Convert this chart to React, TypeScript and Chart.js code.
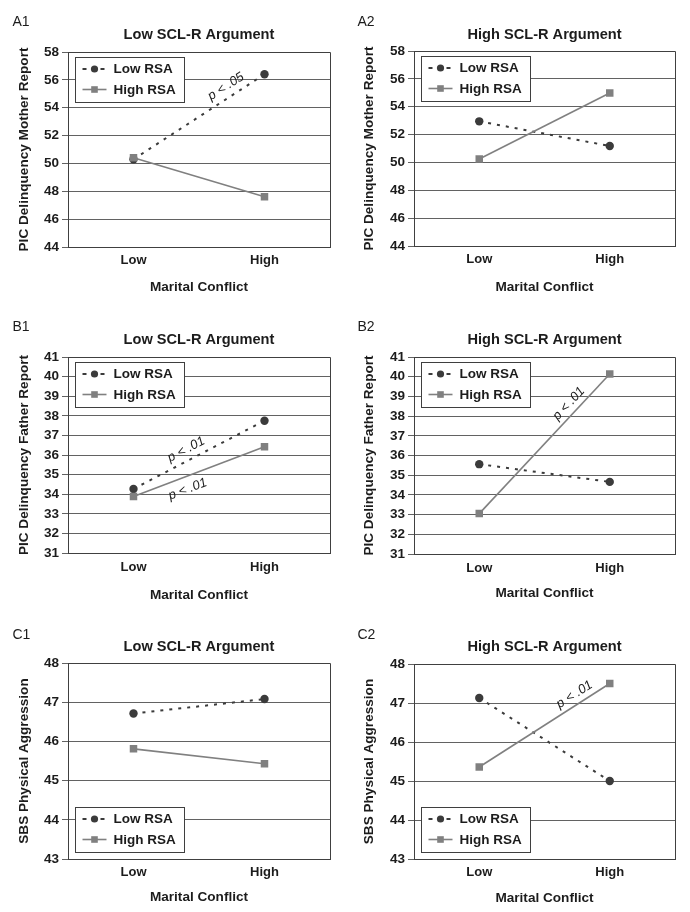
import React, { useEffect, useRef } from "react";
import { Chart, registerables } from "chart.js";

Chart.register(...registerables);

// ---------- data ----------
const categories = ["Low", "High"];
const seriesNames = ["Low RSA", "High RSA"];

const a1Low = [50.3, 56.4];
const a1High = [50.4, 47.6];
const a2Low = [52.95, 51.18];
const a2High = [50.25, 54.99];
const b1Low = [34.27, 37.75];
const b1High = [33.88, 36.42];
const b2Low = [35.56, 34.66];
const b2High = [33.05, 40.14];
const c1Low = [46.71, 47.08];
const c1High = [45.81, 45.43];
const c2Low = [47.13, 45.0];
const c2High = [45.36, 47.5];

const lowSeries = [a1Low, a2Low, b1Low, b2Low, c1Low, c2Low];
const highSeries = [a1High, a2High, b1High, b2High, c1High, c2High];

const panelLabels = ["A1", "A2", "B1", "B2", "C1", "C2"];
const panelTitles = [
  "Low SCL-R Argument",
  "High SCL-R Argument",
  "Low SCL-R Argument",
  "High SCL-R Argument",
  "Low SCL-R Argument",
  "High SCL-R Argument",
];
const yTitles = [
  "PIC Delinquency Mother Report",
  "PIC Delinquency Mother Report",
  "PIC Delinquency Father Report",
  "PIC Delinquency Father Report",
  "SBS Physical Aggression",
  "SBS Physical Aggression",
];
const xTitle = "Marital Conflict";
const yMins = [44, 44, 31, 31, 43, 43];
const yMaxs = [58, 58, 41, 41, 48, 48];
const ySteps = [2, 2, 1, 1, 1, 1];

const annotationTexts = [
  ["p < .05"],
  [],
  ["p < .01", "p < .01"],
  ["p < .01"],
  [],
  ["p < .01"],
];

// ---------- layout / style ----------
const FONT = "'Liberation Sans', Arial, Helvetica, sans-serif";
const TEXT = "#1c1c1c";
const LOW_COLOR = "#3b3b3b";
const HIGH_COLOR = "#808080";
const GRID = "#626262";
const AXIS = "#404040";

const canvasPos = [
  { left: 0, top: 0, h: 300 },
  { left: 345, top: 0, h: 300 },
  { left: 0, top: 300, h: 310 },
  { left: 345, top: 300, h: 310 },
  { left: 0, top: 610, h: 302 },
  { left: 345, top: 610, h: 302 },
];

const frames = [
  { left: 68, right: 330, top: 52, bottom: 247, titleY: 35, labelY: 22.5, xTitleY: 287, gap: 13.3, legend: "top" },
  { left: 69, right: 330, top: 51, bottom: 246, titleY: 35, labelY: 22.5, xTitleY: 287.5, gap: 13.3, legend: "top" },
  { left: 68, right: 330, top: 57, bottom: 253, titleY: 40, labelY: 27, xTitleY: 295, gap: 14.7, legend: "top" },
  { left: 69, right: 330, top: 57, bottom: 254, titleY: 40, labelY: 27, xTitleY: 293.5, gap: 14.7, legend: "top" },
  { left: 68, right: 330, top: 53, bottom: 249, titleY: 36.7, labelY: 25, xTitleY: 287.5, gap: 13.7, legend: "bottom" },
  { left: 69, right: 330, top: 54, bottom: 249, titleY: 37, labelY: 25, xTitleY: 288, gap: 13.7, legend: "bottom" },
];

// where along a series line each annotation sits
const annotationPlaces = [
  [{ ds: 0, t: 0.75, off: -7 }],
  [],
  [
    { ds: 0, t: 0.44, off: -7 },
    { ds: 1, t: 0.38, off: 16 },
  ],
  [{ ds: 1, t: 0.74, off: -6 }],
  [],
  [{ ds: 1, t: 0.77, off: -6 }],
];

const decorPlugin = {
  id: "decor",
  afterDraw(chart: any, _args: any, opts: any) {
    const { ctx, chartArea } = chart;
    const ca = chartArea;
    ctx.save();
    // plot frame
    ctx.strokeStyle = AXIS;
    ctx.lineWidth = 1;
    ctx.beginPath();
    ctx.moveTo(Math.round(ca.left) + 0.5, Math.round(ca.top) + 0.5);
    ctx.lineTo(Math.round(ca.right) + 0.5, Math.round(ca.top) + 0.5);
    ctx.lineTo(Math.round(ca.right) + 0.5, Math.round(ca.bottom) + 0.5);
    ctx.stroke();

    // panel label
    ctx.fillStyle = TEXT;
    ctx.font = `14px ${FONT}`;
    ctx.textAlign = "left";
    ctx.textBaseline = "middle";
    ctx.fillText(opts.label, 12.5, opts.labelY);

    // legend
    const bw = 109;
    const bh = 45;
    const bx = Math.round(ca.left + 7) + 0.5;
    const by =
      opts.legend === "top"
        ? Math.round(ca.top + 4.5) + 0.5
        : Math.round(ca.bottom - 7 - bh) + 0.5;
    ctx.fillStyle = "#ffffff";
    ctx.fillRect(bx, by, bw, bh);
    ctx.strokeStyle = "#3f3f3f";
    ctx.lineWidth = 1;
    ctx.strokeRect(bx, by, bw, bh);

    chart.data.datasets.forEach((ds: any, i: number) => {
      const rowY = by + 11.5 + i * 20.5;
      const x0 = bx + 7;
      const x1 = bx + 31;
      ctx.save();
      ctx.strokeStyle = ds.borderColor;
      ctx.lineWidth = ds.borderWidth;
      ctx.setLineDash(i === 0 ? [4, 5] : []);
      ctx.beginPath();
      ctx.moveTo(x0, rowY);
      ctx.lineTo(x1, rowY);
      ctx.stroke();
      ctx.restore();
      ctx.fillStyle = ds.pointBackgroundColor;
      const mx = (x0 + x1) / 2;
      if (ds.pointStyle === "circle") {
        ctx.beginPath();
        ctx.arc(mx, rowY, 3.6, 0, Math.PI * 2);
        ctx.fill();
      } else {
        ctx.fillRect(mx - 3.3, rowY - 3.3, 6.6, 6.6);
      }
      ctx.fillStyle = TEXT;
      ctx.font = `bold 13.5px ${FONT}`;
      ctx.textAlign = "left";
      ctx.textBaseline = "middle";
      ctx.fillText(ds.label, bx + 38, rowY + 0.5);
    });

    // significance annotations along lines
    (opts.places || []).forEach((pl: any, k: number) => {
      const meta = chart.getDatasetMeta(pl.ds);
      const p0 = meta.data[0];
      const p1 = meta.data[1];
      if (!p0 || !p1) return;
      const x = p0.x + pl.t * (p1.x - p0.x);
      const y = p0.y + pl.t * (p1.y - p0.y);
      const ang = Math.atan2(p1.y - p0.y, p1.x - p0.x);
      ctx.save();
      ctx.translate(x, y);
      ctx.rotate(ang);
      ctx.fillStyle = TEXT;
      ctx.font = `italic 13px ${FONT}`;
      ctx.textAlign = "center";
      ctx.textBaseline = "alphabetic";
      ctx.fillText(opts.texts[k], 0, pl.off);
      ctx.restore();
    });
    ctx.restore();
  },
};

function Panel({ idx }: { idx: number }) {
  const ref = useRef<HTMLCanvasElement>(null);
  const pos = canvasPos[idx];

  useEffect(() => {
    const f = frames[idx];
    const H = pos.h;
    const titleLH = 14.6 * 1.2;
    const axisTitleLH = 13.6 * 1.2;
    const xTickLH = 13 * 1.2;
    const chart = new Chart(ref.current as HTMLCanvasElement, {
      type: "line",
      data: {
        labels: categories,
        datasets: [
          {
            label: seriesNames[0],
            data: lowSeries[idx],
            borderColor: LOW_COLOR,
            backgroundColor: LOW_COLOR,
            pointBackgroundColor: LOW_COLOR,
            pointBorderColor: LOW_COLOR,
            borderWidth: 2,
            borderDash: [3, 6],
            pointStyle: "circle",
            pointRadius: 4.2,
            pointBorderWidth: 0,
            fill: false,
            tension: 0,
            order: 2,
          },
          {
            label: seriesNames[1],
            data: highSeries[idx],
            borderColor: HIGH_COLOR,
            backgroundColor: HIGH_COLOR,
            pointBackgroundColor: HIGH_COLOR,
            pointBorderColor: HIGH_COLOR,
            borderWidth: 1.6,
            pointStyle: "rect",
            pointRadius: 5.3,
            pointBorderWidth: 0,
            fill: false,
            tension: 0,
            order: 1,
          },
        ],
      },
      options: {
        responsive: false,
        animation: false,
        devicePixelRatio: 1,
        events: [],
        layout: { padding: { left: 0, right: 345 - f.right, top: 0, bottom: 0 } },
        plugins: {
          legend: { display: false },
          tooltip: { enabled: false },
          title: {
            display: true,
            text: panelTitles[idx],
            fullSize: false,
            color: TEXT,
            font: { family: FONT, size: 14.6, weight: "bold", lineHeight: 1.2 },
            padding: {
              top: f.titleY - titleLH / 2,
              bottom: f.top - f.titleY - titleLH / 2,
            },
          },
          decor: {
            label: panelLabels[idx],
            labelY: f.labelY,
            legend: f.legend,
            places: annotationPlaces[idx],
            texts: annotationTexts[idx],
          },
        } as any,
        scales: {
          x: {
            type: "category",
            offset: true,
            grid: { display: false, drawTicks: false, tickLength: 0 },
            border: { display: true, color: AXIS, width: 1 },
            ticks: {
              color: TEXT,
              padding: f.gap - xTickLH / 2,
              font: { family: FONT, size: 13, weight: "bold", lineHeight: 1.2 },
            },
            title: {
              display: true,
              text: xTitle,
              color: TEXT,
              font: { family: FONT, size: 13.6, weight: "bold", lineHeight: 1.2 },
              padding: { top: 0, bottom: H - axisTitleLH / 2 - f.xTitleY },
            },
            afterFit: (s: any) => {
              s.height = H - f.bottom;
            },
          },
          y: {
            type: "linear",
            min: yMins[idx],
            max: yMaxs[idx],
            ticks: {
              stepSize: ySteps[idx],
              color: TEXT,
              padding: 3,
              font: { family: FONT, size: 13.5, weight: "bold", lineHeight: 1.2 },
            },
            grid: { color: GRID, lineWidth: 1, drawTicks: true, tickLength: 6 },
            border: { display: true, color: AXIS, width: 1 },
            title: {
              display: true,
              text: yTitles[idx],
              color: TEXT,
              font: { family: FONT, size: 13.6, weight: "bold", lineHeight: 1.2 },
              padding: { top: 16, bottom: 0 },
            },
            afterFit: (s: any) => {
              s.width = f.left;
            },
          },
        },
      } as any,
      plugins: [decorPlugin as any],
    });
    return () => chart.destroy();
  }, [idx]);

  return (
    <canvas
      ref={ref}
      width={345}
      height={pos.h}
      style={{
        position: "absolute",
        left: pos.left,
        top: pos.top,
        width: 345,
        height: pos.h,
        display: "block",
      }}
    />
  );
}

export default function App() {
  return (
    <div
      style={{
        position: "absolute",
        left: 0,
        top: 0,
        width: 690,
        height: 912,
        background: "#ffffff",
        overflow: "hidden",
      }}
    >
      {panelLabels.map((_, i) => (
        <Panel key={i} idx={i} />
      ))}
    </div>
  );
}
